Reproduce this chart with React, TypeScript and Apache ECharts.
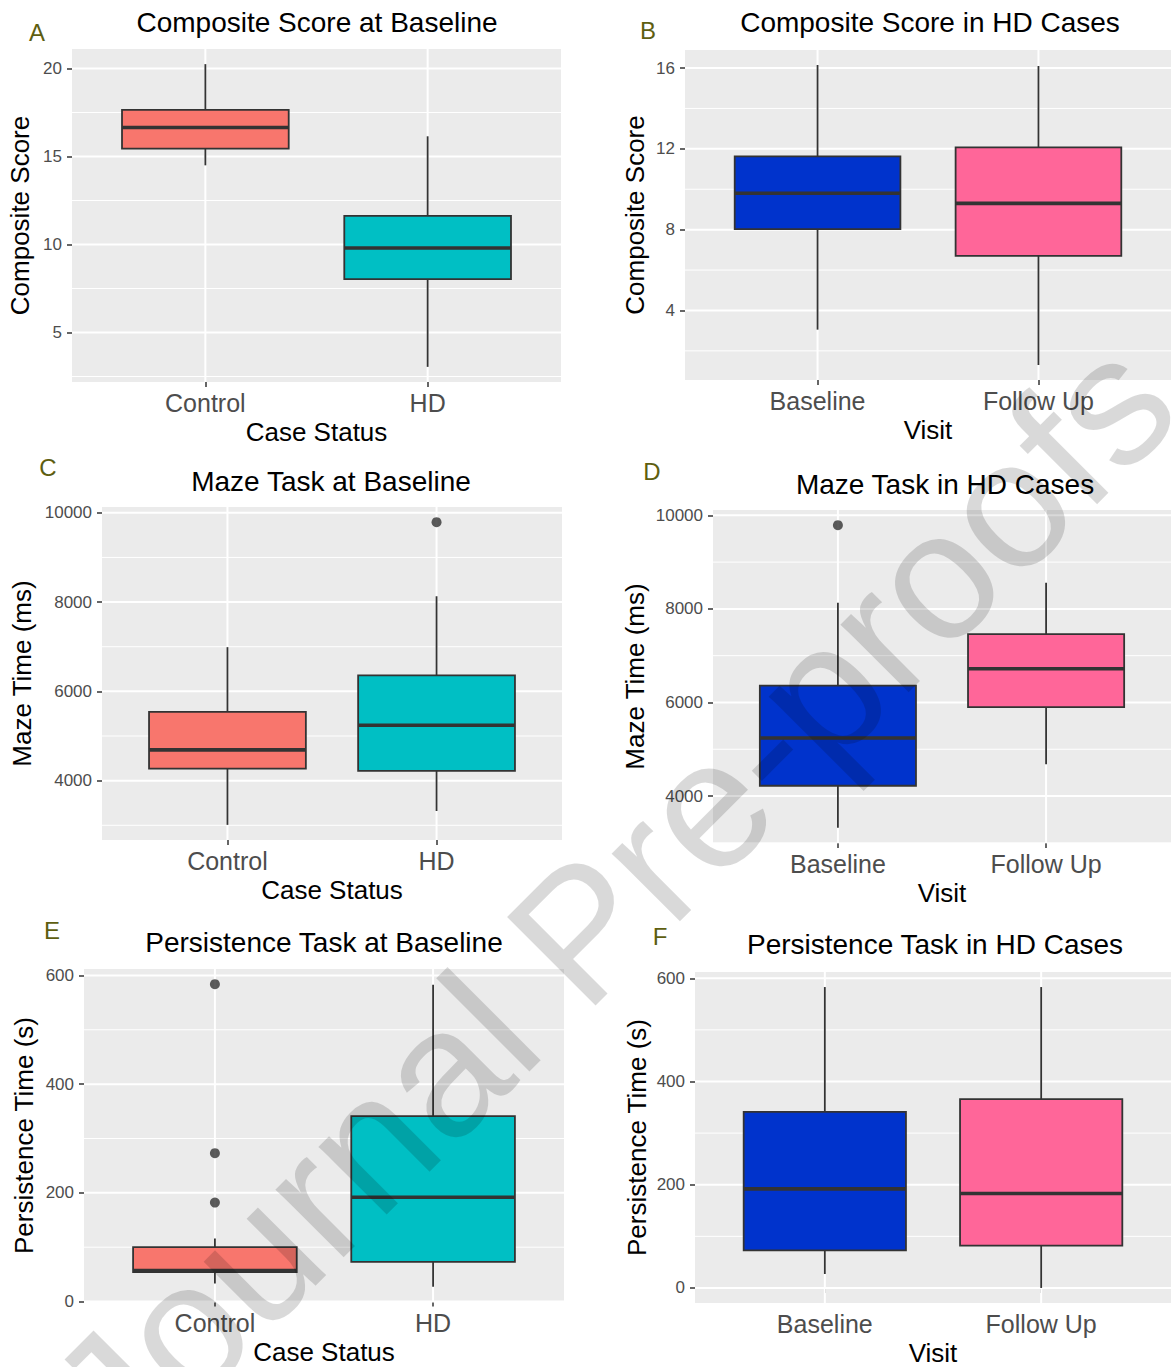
import React, { useEffect, useRef } from "react";
import * as echarts from "echarts";

const FONT = '"Liberation Sans", Arial, Helvetica, sans-serif';

// Categories
const caseStatus = ["Control", "HD"];
const visits = ["Baseline", "Follow Up"];

// Box statistics: [lower whisker, Q1, median, Q3, upper whisker]
const compositeAtBaseline = [
  [14.5, 15.45, 16.65, 17.65, 20.25],
  [3.05, 8.03, 9.8, 11.63, 16.15],
];
const compositeInHD = [
  [3.05, 8.03, 9.8, 11.63, 16.15],
  [1.3, 6.7, 9.3, 12.07, 16.1],
];
const mazeAtBaseline = [
  [3010, 4270, 4690, 5540, 6990],
  [3320, 4220, 5240, 6360, 8130],
];
const mazeInHD = [
  [3320, 4220, 5240, 6360, 8130],
  [4680, 5900, 6720, 7460, 8560],
];
const persistenceAtBaseline = [
  [33, 54, 57, 100, 116],
  [27, 73, 192, 341, 583],
];
const persistenceInHD = [
  [27, 73, 192, 341, 583],
  [0, 82, 183, 366, 583],
];

// Outliers: [category index, value]
const compositeAtBaselineOutliers: number[][] = [];
const compositeInHDOutliers: number[][] = [];
const mazeAtBaselineOutliers = [[1, 9790]];
const mazeInHDOutliers = [[0, 9790]];
const persistenceAtBaselineOutliers = [
  [0, 584],
  [0, 273],
  [0, 182],
];
const persistenceInHDOutliers: number[][] = [];

// Tick labels (major) and minor grid lines
const compositeBaselineTicks = [5, 10, 15, 20];
const compositeBaselineMinor = [2.5, 7.5, 12.5, 17.5];
const compositeHDTicks = [4, 8, 12, 16];
const compositeHDMinor = [2, 6, 10, 14];
const mazeTicks = [4000, 6000, 8000, 10000];
const mazeMinor = [3000, 5000, 7000, 9000];
const persistenceTicks = [0, 200, 400, 600];
const persistenceMinor = [100, 300, 500];

const caseColors = ["#F8766D", "#00BFC4"];
const visitColors = ["#0033CC", "#FF6699"];

function expandRange(boxes: number[][], outliers: number[][]) {
  const vals = [...boxes.flat(), ...outliers.map((o) => o[1])];
  const lo = Math.min(...vals);
  const hi = Math.max(...vals);
  const d = (hi - lo) * 0.05;
  return [lo - d, hi + d];
}

const panels = [
  {
    letter: "A", title: "Composite Score at Baseline", cats: caseStatus, colors: caseColors,
    boxes: compositeAtBaseline, outliers: compositeAtBaselineOutliers,
    major: compositeBaselineTicks, minor: compositeBaselineMinor,
    yName: "Composite Score", xName: "Case Status",
    grid: { left: 72, top: 49, width: 489, height: 333 }, yGap: 39,
    titlePos: [317, 22], letterPos: [37, 32],
  },
  {
    letter: "B", title: "Composite Score in HD Cases", cats: visits, colors: visitColors,
    boxes: compositeInHD, outliers: compositeInHDOutliers,
    major: compositeHDTicks, minor: compositeHDMinor,
    yName: "Composite Score", xName: "Visit",
    grid: { left: 685, top: 50, width: 491, height: 330 }, yGap: 37,
    titlePos: [930, 22], letterPos: [648, 30],
  },
  {
    letter: "C", title: "Maze Task at Baseline", cats: caseStatus, colors: caseColors,
    boxes: mazeAtBaseline, outliers: mazeAtBaselineOutliers,
    major: mazeTicks, minor: mazeMinor,
    yName: "Maze Time (ms)", xName: "Case Status",
    grid: { left: 102, top: 507, width: 460, height: 333 }, yGap: 67,
    titlePos: [331, 481], letterPos: [48, 467],
  },
  {
    letter: "D", title: "Maze Task in HD Cases", cats: visits, colors: visitColors,
    boxes: mazeInHD, outliers: mazeInHDOutliers,
    major: mazeTicks, minor: mazeMinor,
    yName: "Maze Time (ms)", xName: "Visit",
    grid: { left: 713, top: 510, width: 462, height: 333 }, yGap: 65,
    titlePos: [945, 484], letterPos: [652, 471],
  },
  {
    letter: "E", title: "Persistence Task at Baseline", cats: caseStatus, colors: caseColors,
    boxes: persistenceAtBaseline, outliers: persistenceAtBaselineOutliers,
    major: persistenceTicks, minor: persistenceMinor,
    yName: "Persistence Time (s)", xName: "Case Status",
    grid: { left: 84, top: 969, width: 480, height: 333 }, yGap: 47,
    titlePos: [324, 942], letterPos: [52, 930],
  },
  {
    letter: "F", title: "Persistence Task in HD Cases", cats: visits, colors: visitColors,
    boxes: persistenceInHD, outliers: persistenceInHDOutliers,
    major: persistenceTicks, minor: persistenceMinor,
    yName: "Persistence Time (s)", xName: "Visit",
    grid: { left: 695, top: 972, width: 482, height: 332 }, yGap: 45,
    titlePos: [935, 944], letterPos: [660, 936],
  },
];

function buildOption() {
  const grid: any[] = [];
  const xAxis: any[] = [];
  const yAxis: any[] = [];
  const series: any[] = [];
  const graphic: any[] = [];

  panels.forEach((p, i) => {
    const [yMin, yMax] = expandRange(p.boxes, p.outliers);
    const catPos = p.cats.map((_, k) => k + 1);
    grid.push({
      ...p.grid,
      show: true,
      backgroundColor: "#EBEBEB",
      borderWidth: 0,
      containLabel: false,
    });
    xAxis.push({
      gridIndex: i,
      type: "value",
      min: 0.4,
      max: 2.6,
      axisLine: { show: false },
      splitLine: { show: false },
      axisTick: {
        show: true,
        customValues: catPos,
        length: 5,
        lineStyle: { color: "#333333", width: 1.5 },
      },
      axisLabel: {
        customValues: catPos,
        formatter: (v: number) => p.cats[Math.round(v) - 1] ?? "",
        fontSize: 25,
        color: "#4D4D4D",
        fontFamily: FONT,
        margin: 8,
      },
      name: p.xName,
      nameLocation: "middle",
      nameGap: 37,
      nameTextStyle: { fontSize: 26, color: "#000000", fontFamily: FONT },
    });
    yAxis.push({
      gridIndex: i,
      type: "value",
      min: yMin,
      max: yMax,
      axisLine: { show: false },
      splitLine: { show: false },
      axisTick: {
        show: true,
        customValues: p.major,
        length: 5,
        lineStyle: { color: "#333333", width: 1.5 },
      },
      axisLabel: {
        customValues: p.major,
        formatter: (v: number) => String(v),
        fontSize: 17,
        color: "#4D4D4D",
        fontFamily: FONT,
        margin: 10,
      },
      name: p.yName,
      nameLocation: "middle",
      nameGap: p.yGap,
      nameTextStyle: { fontSize: 26, color: "#000000", fontFamily: FONT },
    });

    // grid lines: [x, y, kind] kind 0 = major horizontal, 1 = minor horizontal, 2 = vertical
    const gridData = [
      ...p.minor.map((v) => [1, v, 1]),
      ...p.major.map((v) => [1, v, 0]),
      ...catPos.map((c) => [c, yMin, 2]),
    ];
    series.push({
      type: "custom",
      xAxisIndex: i,
      yAxisIndex: i,
      silent: true,
      z: 1,
      data: gridData,
      renderItem: (params: any, api: any) => {
        const cs = params.coordSys;
        const kind = api.value(2);
        const pt = api.coord([api.value(0), api.value(1)]);
        if (kind === 2) {
          return {
            type: "line",
            shape: { x1: pt[0], y1: cs.y, x2: pt[0], y2: cs.y + cs.height },
            style: { stroke: "#FFFFFF", lineWidth: 2 },
          };
        }
        return {
          type: "line",
          shape: { x1: cs.x, y1: pt[1], x2: cs.x + cs.width, y2: pt[1] },
          style: { stroke: "#FFFFFF", lineWidth: kind === 0 ? 2 : 1 },
        };
      },
    });

    // boxes
    series.push({
      type: "custom",
      xAxisIndex: i,
      yAxisIndex: i,
      silent: true,
      z: 2,
      encode: { x: 0, y: [1, 2, 3, 4, 5] },
      data: p.boxes.map((b, k) => [k + 1, ...b]),
      renderItem: (params: any, api: any) => {
        const x = api.value(0);
        const pLo = api.coord([x, api.value(1)]);
        const pQ1 = api.coord([x, api.value(2)]);
        const pMed = api.coord([x, api.value(3)]);
        const pQ3 = api.coord([x, api.value(4)]);
        const pHi = api.coord([x, api.value(5)]);
        const half = api.size([0.75, 0])[0] / 2;
        const cx = pMed[0];
        const color = p.colors[params.dataIndex];
        return {
          type: "group",
          children: [
            {
              type: "line",
              shape: { x1: cx, y1: pHi[1], x2: cx, y2: pQ3[1] },
              style: { stroke: "#333333", lineWidth: 1.8 },
            },
            {
              type: "line",
              shape: { x1: cx, y1: pQ1[1], x2: cx, y2: pLo[1] },
              style: { stroke: "#333333", lineWidth: 1.8 },
            },
            {
              type: "rect",
              shape: { x: cx - half, y: pQ3[1], width: half * 2, height: pQ1[1] - pQ3[1] },
              style: { fill: color, stroke: "#333333", lineWidth: 1.8 },
            },
            {
              type: "line",
              shape: { x1: cx - half, y1: pMed[1], x2: cx + half, y2: pMed[1] },
              style: { stroke: "#333333", lineWidth: 3.6 },
            },
          ],
        };
      },
    });

    if (p.outliers.length) {
      series.push({
        type: "scatter",
        xAxisIndex: i,
        yAxisIndex: i,
        silent: true,
        z: 3,
        symbol: "circle",
        symbolSize: 10,
        itemStyle: { color: "#333333" },
        data: p.outliers.map((o) => [o[0] + 1, o[1]]),
      });
    }

    graphic.push({
      type: "text",
      x: p.titlePos[0],
      y: p.titlePos[1],
      style: {
        text: p.title,
        fontSize: 28,
        fontFamily: FONT,
        fill: "#000000",
        textAlign: "center",
        textVerticalAlign: "middle",
      },
    });
    graphic.push({
      type: "text",
      x: p.letterPos[0],
      y: p.letterPos[1],
      style: {
        text: p.letter,
        fontSize: 24,
        fontFamily: FONT,
        fill: "#5E5E10",
        textAlign: "center",
        textVerticalAlign: "middle",
      },
    });
  });

  graphic.push({
    type: "text",
    x: 612,
    y: 900,
    rotation: Math.PI / 4,
    z: 100,
    silent: true,
    style: {
      text: "Journal Pre-proofs",
      fontSize: 182,
      fontFamily: FONT,
      fill: "rgba(0,0,0,0.15)",
      textAlign: "center",
      textVerticalAlign: "middle",
    },
  });

  return {
    animation: false,
    backgroundColor: "#FFFFFF",
    grid,
    xAxis,
    yAxis,
    series,
    graphic,
  };
}

export default function App() {
  const ref = useRef<HTMLDivElement>(null);
  useEffect(() => {
    document.body.style.margin = "0";
    const chart = echarts.init(ref.current!, null, { renderer: "svg" });
    chart.setOption(buildOption() as any);
    return () => chart.dispose();
  }, []);
  return <div ref={ref} style={{ width: 1171, height: 1367 }} />;
}
